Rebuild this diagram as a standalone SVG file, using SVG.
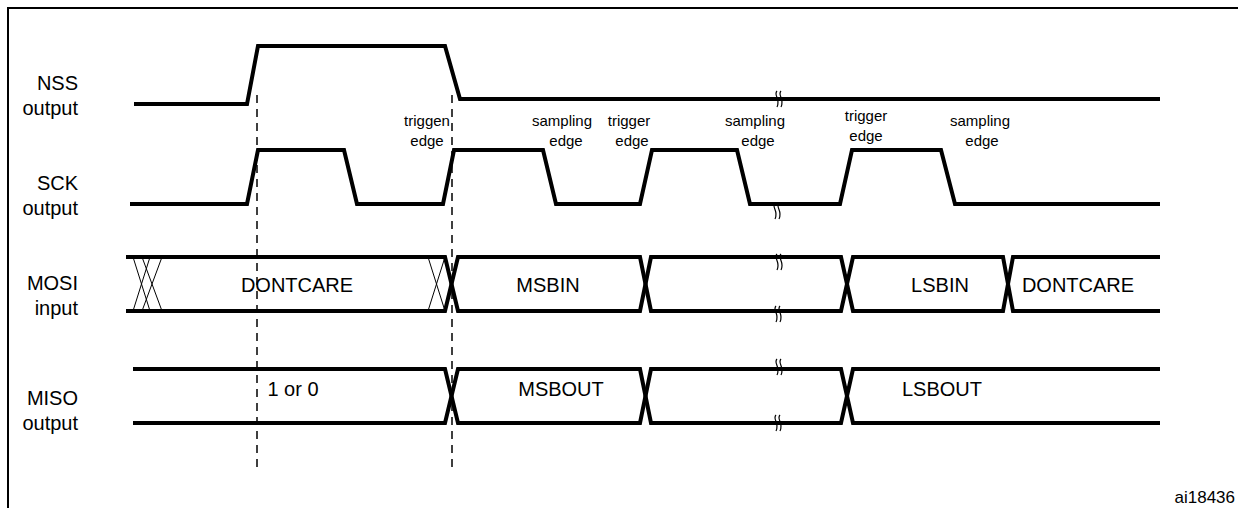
<svg xmlns="http://www.w3.org/2000/svg" width="1238" height="508" viewBox="0 0 1238 508">
<defs>
<path id="brk" d="M-2,-8 c-4,4 4,8 0,16 M2,-8 c-4,4 4,8 0,16" fill="none" stroke="#000" stroke-width="1.2"/>
</defs>
<style>
.s{fill:none;stroke:#000;stroke-width:4;stroke-linejoin:miter}
.t{fill:none;stroke:#000;stroke-width:1}
.d{fill:none;stroke:#000;stroke-width:1.5;stroke-dasharray:8,6}
text{font-family:"Liberation Sans",Arial,sans-serif;fill:#000}
.l{font-size:20px;text-anchor:end}
.a{font-size:15px;text-anchor:middle}
.v{font-size:20px;text-anchor:middle}
</style>
<rect x="0" y="0" width="1238" height="508" fill="#fff"/>
<path d="M8,508 V8 H1238" fill="none" stroke="#000" stroke-width="2"/>
<g id="labels">
<text class="l" x="78" y="90">NSS</text><text class="l" x="78" y="115">output</text>
<text class="l" x="78" y="190">SCK</text><text class="l" x="78" y="215">output</text>
<text class="l" x="78" y="290">MOSI</text><text class="l" x="78" y="315">input</text>
<text class="l" x="78" y="405">MISO</text><text class="l" x="78" y="430">output</text>
</g>
<g id="annotations">
<text class="a" x="427" y="126">triggen</text><text class="a" x="427" y="146">edge</text>
<text class="a" x="562" y="126">sampling</text><text class="a" x="566" y="146">edge</text>
<text class="a" x="629" y="126">trigger</text><text class="a" x="632" y="146">edge</text>
<text class="a" x="755" y="126">sampling</text><text class="a" x="758" y="146">edge</text>
<text class="a" x="866" y="121">trigger</text><text class="a" x="866" y="141">edge</text>
<text class="a" x="980" y="126">sampling</text><text class="a" x="982" y="146">edge</text>
</g>
<g id="connectors">
<line class="d" x1="257" y1="95" x2="257" y2="472"/>
<line class="d" x1="452" y1="95" x2="452" y2="472"/>
</g>
<g id="nss">
<path class="s" d="M134,104 H247 L258,46 H445 L460,99 H1160"/>
<use href="#brk" x="779" y="99"/>
</g>
<g id="sck">
<path class="s" d="M130,204 H247 L258,150 H344 L357,204 H443 L454,150 H543 L556,204 H640 L652,150 H737 L750,204 H840 L852,150 H941 L955,204 H1160"/>
<use href="#brk" x="777" y="211"/>
</g>
<g id="mosi">
<path class="s" d="M126,257 H445 L458,311 H640 L651,257 H841 L853,311 H1003 L1013,257 H1160"/>
<path class="s" d="M126,311 H445 L458,257 H640 L651,311 H841 L853,257 H1003 L1013,311 H1160"/>
<path class="t" d="M133,257 L150,311 M150,257 L133,311 M142,257 L162,311 M162,257 L142,311 M428,257 L445,311 M445,257 L428,311"/>
<use href="#brk" x="779" y="262"/>
<use href="#brk" x="778" y="314"/>
<text class="v" x="297" y="292">DONTCARE</text>
<text class="v" x="548" y="292">MSBIN</text>
<text class="v" x="940" y="292">LSBIN</text>
<text class="v" x="1078" y="292">DONTCARE</text>
</g>
<g id="miso">
<path class="s" d="M133,369 H445 L458,423 H640 L651,369 H841 L853,423 H1160"/>
<path class="s" d="M133,423 H445 L458,369 H640 L651,423 H841 L853,369 H1160"/>
<use href="#brk" x="779" y="367"/>
<use href="#brk" x="778" y="423"/>
<text class="v" x="293" y="396">1 or 0</text>
<text class="v" x="561" y="396">MSBOUT</text>
<text class="v" x="942" y="396">LSBOUT</text>
</g>
<text x="1235" y="503" style="font-size:17px;text-anchor:end">ai18436</text>
</svg>
